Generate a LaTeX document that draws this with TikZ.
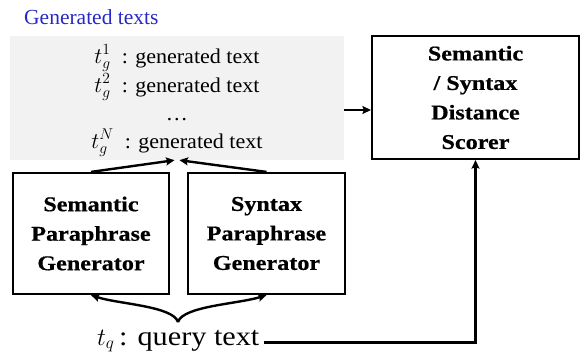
\documentclass[tikz,border=0pt]{standalone}
\usepackage{fontspec}
\usepackage{graphicx}
\setmainfont{Liberation Serif}
\newfontfamily\gtfont[FakeStretch=1.05]{Liberation Serif}
\newfontfamily\widefont[FakeStretch=1.15,FakeBold=0.6]{Liberation Serif}
\newfontfamily\qfont[FakeStretch=1.12]{Liberation Serif}
\usetikzlibrary{arrows.meta}
\definecolor{titleblue}{RGB}{40,40,200}
\definecolor{genfill}{RGB}{242,242,242}
\newcommand{\bigmath}[1]{\scalebox{1.08}{$#1$}}
\begin{document}
\begin{tikzpicture}[x=1pt,y=-1pt,
  arr/.style={line width=2.4pt, -{Stealth[length=8.5pt,width=8pt,inset=1.5pt]}},
  box/.style={draw, line width=2.2pt, align=center, inner sep=0pt,
    font=\widefont\bfseries\fontsize{21}{29.5}\selectfont},
  genline/.style={anchor=base, inner sep=0pt, font=\gtfont\fontsize{21}{28}\selectfont},
]
\useasboundingbox (0,0) rectangle (583,359);
\node[anchor=base west, inner sep=0pt, text=titleblue,
  font=\fontsize{21.5}{26}\selectfont] (title) at (24,24) {Generated texts};
\node[fill=genfill, minimum width=334pt, minimum height=124pt, inner sep=0pt] (gen) at (177,98) {};
\node[genline] (g1) at (177,63) {\bigmath{t_g^1}\ \ : generated text};
\node[genline] (g2) at (177,92) {\bigmath{t_g^2}\ \ : generated text};
\node[genline] (gd) at (177,120) {\ldots};
\node[genline] (gN) at (177,148) {\bigmath{t_g^N}\ \ : generated text};

\node[box, minimum width=207pt, minimum height=123pt] (scorer) at (475.5,97.5)
  {Semantic\\/ Syntax\\Distance\\Scorer};
\node[box, minimum width=156pt, minimum height=121pt] (sem) at (91,233.5)
  {Semantic\\Paraphrase\\Generator};
\node[box, minimum width=157pt, minimum height=121pt] (syn) at (266.5,233.5)
  {Syntax\\Paraphrase\\Generator};

\node[anchor=base west, inner sep=2pt, font=\qfont\fontsize{27}{30}\selectfont]
  (query) at (95,345) {$t_q$\,: query text};

\coordinate (ga) at ([yshift=-12pt]gen.east);
\draw[arr] (ga) -- (ga -| scorer.west);
\draw[arr] (sem.north) -- ([xshift=-2.5pt]gen.south);
\draw[arr] (syn.north) -- ([xshift=2.5pt]gen.south);
\coordinate (tip) at (178,322);
\draw[arr] (tip) .. controls (173,306) and (118,304) .. (sem.south);
\draw[arr] (tip) .. controls (183,306) and (238,304) .. (syn.south);
\coordinate (qe) at ([xshift=2pt,yshift=-1.5pt]query.east);
\draw[arr] (qe) -- (qe -| scorer.south) -- (scorer.south);
\end{tikzpicture}
\end{document}
